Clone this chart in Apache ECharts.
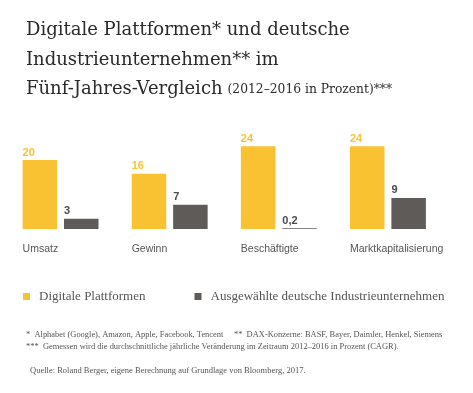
<!DOCTYPE html>
<html><head><meta charset="utf-8">
<script src="https://cdn.jsdelivr.net/npm/echarts@6/dist/echarts.min.js"></script>
<style>html,body{margin:0;padding:0;background:#fff}#c{width:473px;height:393px}</style>
</head><body><div id="c"></div>
<script>
const categories = ['Umsatz', 'Gewinn', 'Beschäftigte', 'Marktkapitalisierung'];
const digitalPlatforms = [20, 16, 24, 24];
const germanIndustry = [3, 7, 0.2, 9];
const seriesNames = ['Digitale Plattformen', 'Ausgewählte deutsche Industrieunternehmen'];

const YELLOW = '#F9C232', DARK = '#5F5B58', TXT = '#555555';
const serif = '"Liberation Serif", "DejaVu Serif", serif';
const titleSerif = '"DejaVu Serif", "Liberation Serif", serif';
const sans = '"Liberation Sans", Arial, sans-serif';
const fmt = p => String(p.value).replace('.', ',');

const chart = echarts.init(document.getElementById('c'), null, {renderer: 'canvas'});
chart.setOption({
  backgroundColor: '#fff',
  animation: false,
  title: [
    {
      left: 21, top: 11,
      text: '{a|Digitale Plattformen* und deutsche}\n{a|Industrieunternehmen** im}\n{a|Fünf-Jahres-Vergleich} {b|(2012–2016 in Prozent)***}',
      textStyle: {
        fontWeight: 'normal',
        rich: {
          a: {fontFamily: titleSerif, fontSize: 18, fontWeight: 'normal', color: '#2a2a2a', lineHeight: 29.5},
          b: {fontFamily: titleSerif, fontSize: 12.3, fontWeight: 'normal', color: '#2a2a2a', lineHeight: 29.5}
        }
      }
    },
    {
      left: 21, top: 324,
      text: '*  Alphabet (Google), Amazon, Apple, Facebook, Tencent     **  DAX-Konzerne: BASF, Bayer, Daimler, Henkel, Siemens\n***  Gemessen wird die durchschnittliche jährliche Veränderung im Zeitraum 2012–2016 in Prozent (CAGR).',
      textStyle: {fontFamily: serif, fontSize: 8.45, color: TXT, fontWeight: 'normal', lineHeight: 12}
    },
    {
      left: 25, top: 361,
      text: 'Quelle: Roland Berger, eigene Berechnung auf Grundlage von Bloomberg, 2017.',
      textStyle: {fontFamily: serif, fontSize: 8.5, color: TXT, fontWeight: 'normal'}
    }
  ],
  legend: {
    left: 18, top: 285,
    icon: 'rect', itemWidth: 7, itemHeight: 7, itemGap: 49,
    textStyle: {fontFamily: serif, fontSize: 13, color: TXT, padding: [0, 0, 0, 4]},
    data: seriesNames
  },
  grid: {left: 6, right: 30.5, top: 125.5, bottom: 164, containLabel: false},
  xAxis: {
    type: 'category', data: categories,
    axisLine: {show: false}, axisTick: {show: false},
    axisLabel: {
      margin: 15, interval: 0,
      formatter: v => '{a|' + v + '}',
      rich: {a: {width: 76, align: 'left', fontFamily: sans, fontSize: 10.5, color: TXT}}
    }
  },
  yAxis: {type: 'value', min: 0, max: 30, show: false, splitLine: {show: false}},
  series: [
    {
      name: seriesNames[0], type: 'bar', data: digitalPlatforms,
      barWidth: 34.5, barGap: '20%',
      itemStyle: {color: YELLOW},
      label: {show: true, position: [0, -13], align: 'left', verticalAlign: 'top',
        formatter: fmt, fontFamily: sans, fontSize: 11, fontWeight: 'bold', color: YELLOW}
    },
    {
      name: seriesNames[1], type: 'bar', data: germanIndustry,
      barWidth: 34.5, barGap: '20%',
      itemStyle: {color: DARK},
      label: {show: true, position: [0, -13], align: 'left', verticalAlign: 'top',
        formatter: fmt, fontFamily: sans, fontSize: 11, fontWeight: 'bold', color: '#4a4a4a'}
    }
  ]
});
</script></body></html>
